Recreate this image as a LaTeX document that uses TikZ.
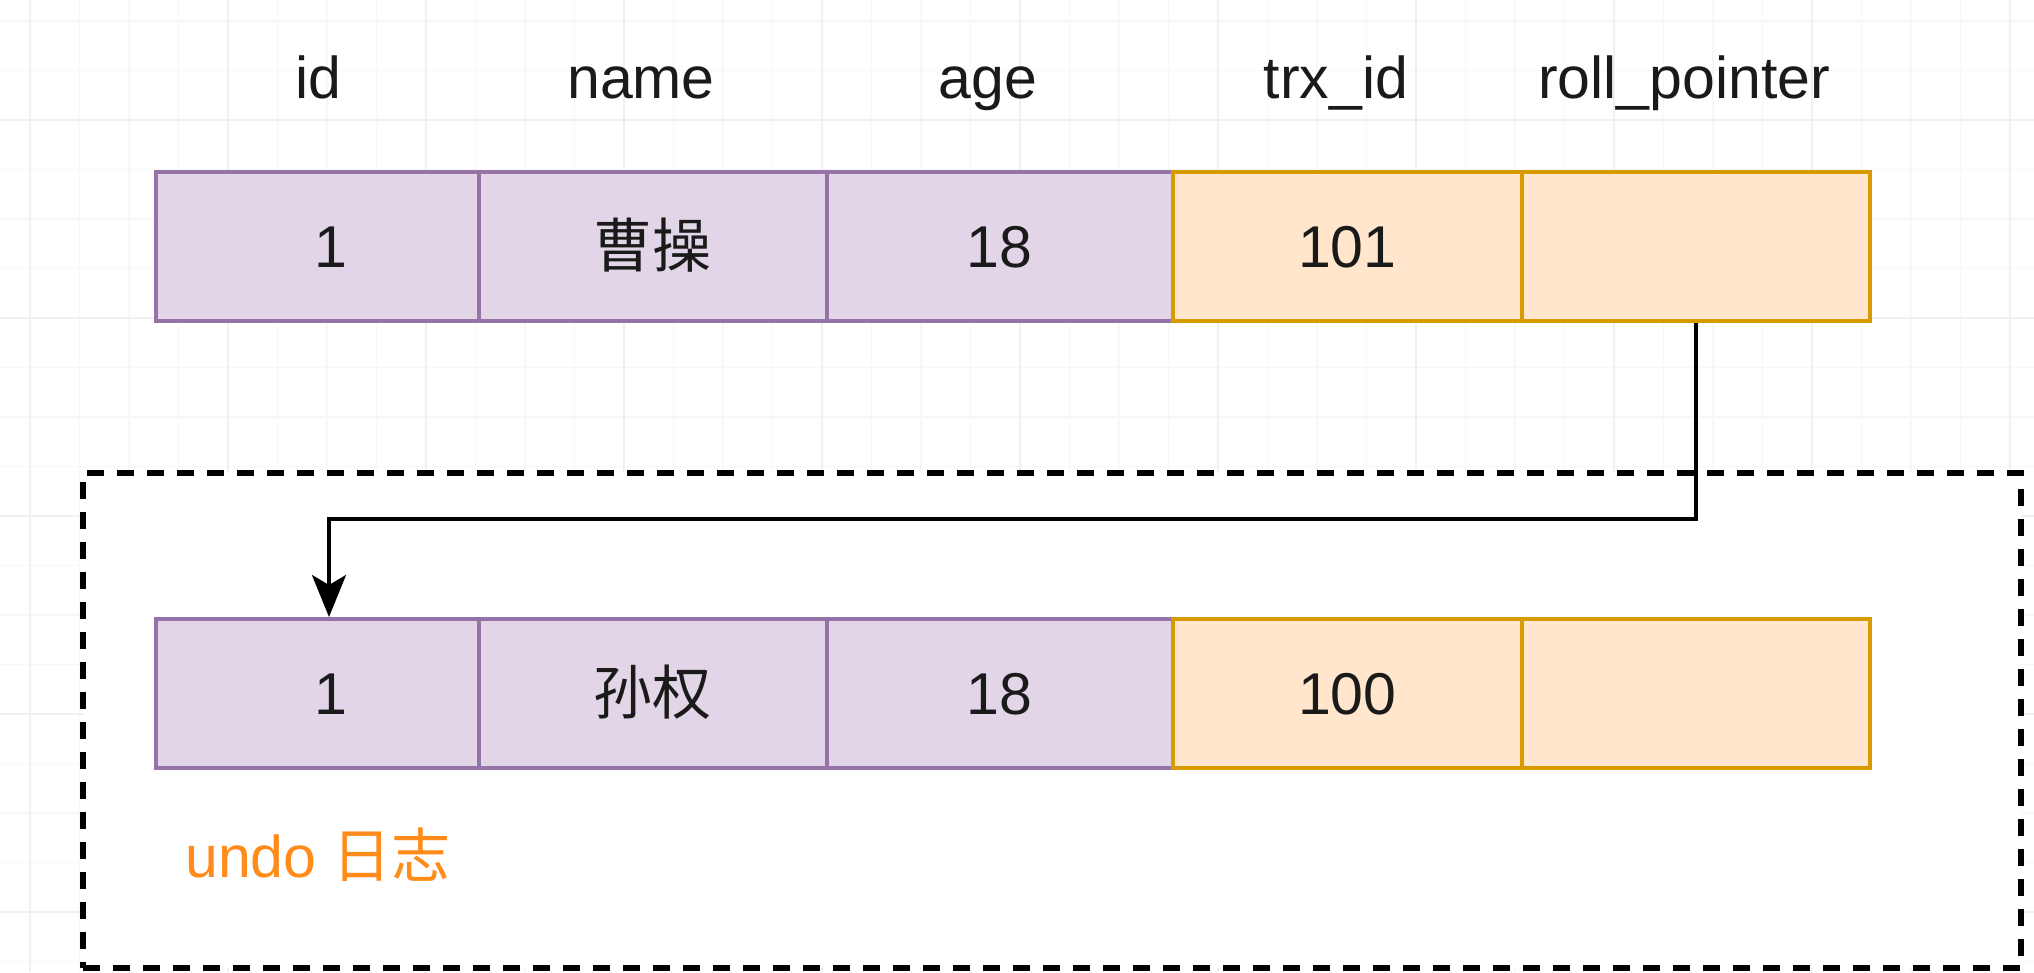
\documentclass[tikz,border=0pt]{standalone}
\usepackage{fontspec}
\setmainfont{Liberation Sans}
\newfontfamily\cjk{Noto Sans CJK SC}
\usetikzlibrary{arrows.meta}
\definecolor{pfill}{HTML}{E1D5E7}
\definecolor{pline}{HTML}{9673A6}
\definecolor{ofill}{HTML}{FFE6CC}
\definecolor{oline}{HTML}{D79B00}
\definecolor{txt}{HTML}{1A1A1A}
\definecolor{undoc}{HTML}{FF8C1A}
\definecolor{gminor}{HTML}{F7F7F7}
\definecolor{gmajor}{HTML}{F0F0F0}
\tikzset{
  bigfont/.style={font=\fontsize{59}{66}\selectfont, text=txt},
  cellbase/.style={bigfont, line width=3.5pt, minimum height=149pt, inner sep=0pt,
    anchor=north west, text height=42pt, text depth=0pt},
  cellp/.style={cellbase, draw=pline, fill=pfill},
  cello/.style={cellbase, draw=oline, fill=ofill},
  header/.style={bigfont, anchor=base, inner sep=0pt},
  undobox/.style={draw=black, fill=white, line width=5.5pt, dash pattern=on 17pt off 13pt},
  arr/.style={draw=black, line width=3.5pt, -{Stealth[length=42pt,width=34pt,inset=10pt]}},
}
\begin{document}
\begin{tikzpicture}[x=1pt,y=-1pt]
\useasboundingbox (0,0) rectangle (2034,972);
\fill[white] (0,0) rectangle (2034,972);
% background grid
\foreach \k in {0,...,40} { \draw[gminor, line width=1.5pt] (30+49.5*\k,0) -- (30+49.5*\k,972); }
\foreach \k in {0,...,19} { \draw[gminor, line width=1.5pt] (0,21+49.5*\k) -- (2034,21+49.5*\k); }
\foreach \k in {0,...,10} { \draw[gmajor, line width=1.5pt] (30+198*\k,0) -- (30+198*\k,972); }
\foreach \k in {0,...,4} { \draw[gmajor, line width=1.5pt] (0,120+198*\k) -- (2034,120+198*\k); }

% undo log box
\node[undobox, anchor=north west, minimum width=1938pt, minimum height=495pt, inner sep=0pt] (undo) at (80,470) {};

% headers
\node[header] (hid) at (318,98) {id};
\node[header] (hname) at (641,98) {name};
\node[header] (hage) at (988,98) {age};
\node[header] (htrx) at (1336,98) {trx\_id};
\node[header] (hroll) at (1684,98) {roll\_pointer};

% current row
\node[cellp, minimum width=323pt] (a1) at (154,170) {\hspace*{27pt}1};
\node[cellp, minimum width=348pt] (a2) at (477,170) {{\cjk 曹操}};
\node[cellp, minimum width=346pt] (a3) at (825,170) {18};
\node[cello, minimum width=349pt] (a4) at (1171,170) {101};
\node[cello, minimum width=348pt] (a5) at (1520,170) {};

% undo row
\node[cellp, minimum width=323pt] (b1) at (154,617) {\hspace*{27pt}1};
\node[cellp, minimum width=348pt] (b2) at (477,617) {{\cjk 孙权}};
\node[cellp, minimum width=346pt] (b3) at (825,617) {18};
\node[cello, minimum width=349pt] (b4) at (1171,617) {100};
\node[cello, minimum width=348pt] (b5) at (1520,617) {};

% label
\node[bigfont, text=undoc, anchor=base west, inner sep=0pt] (undolabel) at (185,877) {undo {\cjk 日志}};

% pointer
\coordinate (knee) at (329,519);
\draw[arr] (a5.south) |- (knee) -- (knee |- b1.north);
\end{tikzpicture}
\end{document}
